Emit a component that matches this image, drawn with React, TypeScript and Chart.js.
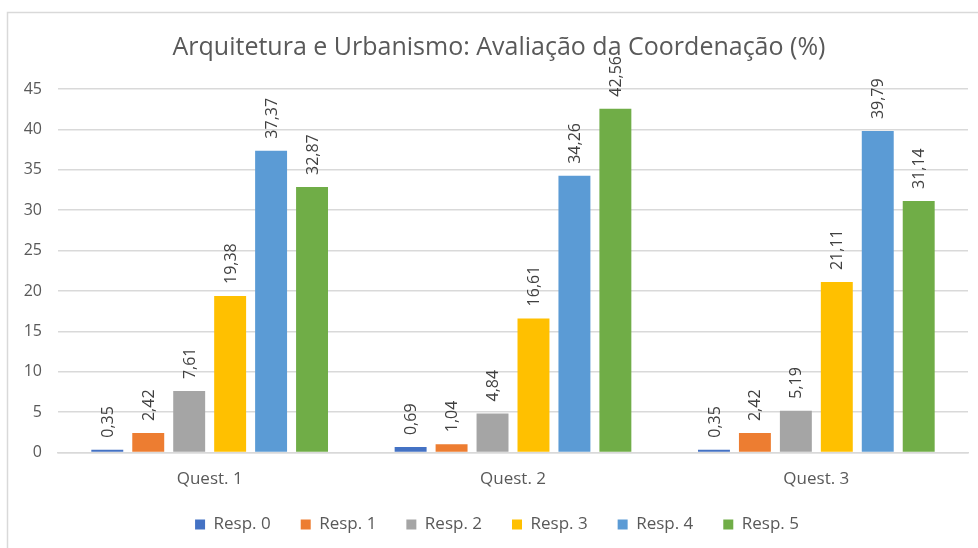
import React, { useEffect, useRef } from "react";
import { Chart, registerables } from "chart.js";

Chart.register(...registerables);

const categories = ["Quest. 1", "Quest. 2", "Quest. 3"];
const seriesNames = ["Resp. 0", "Resp. 1", "Resp. 2", "Resp. 3", "Resp. 4", "Resp. 5"];
const resp0 = [0.35, 0.69, 0.35];
const resp1 = [2.42, 1.04, 2.42];
const resp2 = [7.61, 4.84, 5.19];
const resp3 = [19.38, 16.61, 21.11];
const resp4 = [37.37, 34.26, 39.79];
const resp5 = [32.87, 42.56, 31.14];
const seriesColors = ["#4472C4", "#ED7D31", "#A5A5A5", "#FFC000", "#5B9BD5", "#70AD47"];
const yTicks = [0, 5, 10, 15, 20, 25, 30, 35, 40, 45];
const titleText = "Arquitetura e Urbanismo: Avaliação da Coordenação (%)";

const FONT = "'Open Sans', sans-serif";

const fmt = (v: number) => v.toFixed(2).replace(".", ",");

const labelPlugin = {
  id: "barLabels",
  afterDatasetsDraw(chart: any) {
    const ctx = chart.ctx;
    ctx.save();
    ctx.fillStyle = "#404040";
    ctx.font = `16px ${FONT}`;
    ctx.textAlign = "left";
    ctx.textBaseline = "middle";
    chart.data.datasets.forEach((ds: any, i: number) => {
      const meta = chart.getDatasetMeta(i);
      meta.data.forEach((el: any, j: number) => {
        const v = ds.data[j];
        ctx.save();
        ctx.translate(el.x + 1, el.y - 12);
        ctx.rotate(-Math.PI / 2);
        ctx.fillText(fmt(v), 0, 0);
        ctx.restore();
      });
    });
    ctx.restore();
  },
};

const borderPlugin = {
  id: "outerBorder",
  beforeDraw(chart: any) {
    const ctx = chart.ctx;
    ctx.save();
    ctx.fillStyle = "#ffffff";
    ctx.fillRect(0, 0, chart.width, chart.height);
    ctx.strokeStyle = "#d9d9d9";
    ctx.lineWidth = 1.5;
    ctx.beginPath();
    ctx.moveTo(7.5, chart.height);
    ctx.lineTo(7.5, 12.5);
    ctx.lineTo(chart.width, 12.5);
    ctx.stroke();
    ctx.restore();
  },
};

const blockShift = {
  id: "blockShift",
  afterLayout(chart: any) {
    const l = chart.legend;
    if (l) {
      l.left += 9;
      l.right += 9;
      l.top -= 19;
      l.bottom -= 19;
    }
    const t = chart.titleBlock;
    if (t) {
      t.left += 11;
      t.right += 11;
    }
  },
};

export default function App() {
  const ref = useRef<HTMLCanvasElement>(null);
  useEffect(() => {
    if (!ref.current) return;
    const allSeries = [resp0, resp1, resp2, resp3, resp4, resp5];
    const chart = new Chart(ref.current, {
      type: "bar",
      data: {
        labels: categories,
        datasets: allSeries.map((d, i) => ({
          label: seriesNames[i],
          data: d,
          backgroundColor: seriesColors[i],
          borderWidth: 0,
          categoryPercentage: 0.81,
          barPercentage: 0.78,
        })),
      },
      options: {
        animation: false,
        responsive: true,
        maintainAspectRatio: false,
        layout: { padding: { left: 8, right: 10, top: 12, bottom: -14 } },
        plugins: {
          title: {
            display: true,
            text: titleText,
            color: "#595959",
            font: { family: FONT, size: 25, weight: "normal" },
            padding: { top: 21, bottom: 26 },
          },
          legend: {
            position: "bottom",
            labels: {
              color: "#595959",
              font: { family: FONT, size: 17 },
              boxWidth: 10,
              boxHeight: 10,
              padding: 30,
            },
          },
          tooltip: { enabled: false },
        },
        scales: {
          x: {
            grid: { display: false, drawTicks: false },
            border: { color: "#d9d9d9", width: 1.5 },
            ticks: { color: "#595959", font: { family: FONT, size: 17 }, padding: 16 },
          },
          y: {
            min: 0,
            max: 45,
            afterFit(scale: any) {
              scale.width = 50;
            },
            afterBuildTicks(scale: any) {
              scale.ticks = yTicks.map((v) => ({ value: v }));
            },
            grid: { color: "#d9d9d9", lineWidth: 1.5, drawTicks: false },
            border: { display: false },
            ticks: { color: "#595959", font: { family: FONT, size: 16 }, padding: 16 },
          },
        },
      },
      plugins: [borderPlugin, blockShift, labelPlugin],
    });
    return () => chart.destroy();
  }, []);
  return (
    <div style={{ position: "absolute", left: 0, top: 0, width: 978, height: 548 }}>
      <canvas ref={ref} />
    </div>
  );
}
